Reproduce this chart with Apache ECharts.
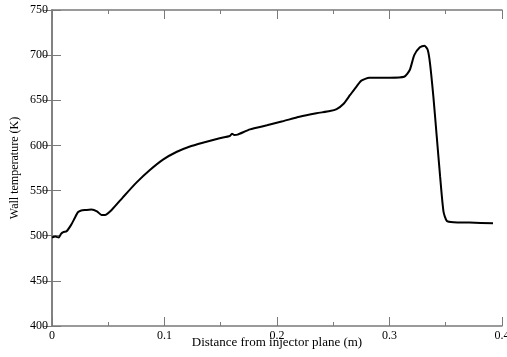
<!DOCTYPE html>
<html>
<head>
<meta charset="utf-8">
<script src="https://cdn.jsdelivr.net/npm/echarts@6/dist/echarts.min.js"></script>
<style>
  html, body { margin: 0; padding: 0; background: #fff; }
  #chart { width: 507px; height: 357px; }
</style>
</head>
<body>
<div id="chart"></div>
<script>
  // distance from injector plane (m)
  const distance = [0, 0.003, 0.006, 0.008, 0.010, 0.013, 0.017, 0.020, 0.023, 0.026,
    0.030, 0.035, 0.040, 0.044, 0.047, 0.053, 0.063, 0.075, 0.087, 0.099,
    0.111, 0.122, 0.134, 0.149, 0.158, 0.160, 0.162, 0.165, 0.176, 0.191,
    0.205, 0.220, 0.235, 0.247, 0.253, 0.259, 0.265, 0.271, 0.275, 0.282,
    0.291, 0.300, 0.313, 0.318, 0.322, 0.327, 0.331, 0.334, 0.336, 0.339,
    0.342, 0.345, 0.348, 0.351, 0.357, 0.371, 0.392];
  // wall temperature (K)
  const temperature = [498, 499, 498, 502, 504, 505, 512, 519, 526, 528,
    528.5, 529, 527, 523, 523, 528.5, 542.5, 558.8, 572.8, 584.6,
    593, 598.6, 603, 607.9, 610.4, 613, 611.6, 612, 617.8, 622.3,
    626.7, 631.8, 635.6, 638.1, 640.3, 645.9, 655.9, 665.8, 671.7, 675,
    675, 675, 676, 683.5, 700, 708.7, 710.5, 705.7, 691, 654,
    609.7, 565.4, 526.6, 516.3, 514.9, 514.5, 513.7];

  const xTicks = [0, 0.1, 0.2, 0.3, 0.4];
  const yTicks = [400, 450, 500, 550, 600, 650, 700, 750];

  const font = 'Liberation Serif';
  const axisColor = '#7a7a7a';

  const myChart = echarts.init(document.getElementById('chart'));

  const xBase = {
    type: 'value',
    min: xTicks[0],
    max: xTicks[xTicks.length - 1],
    interval: 0.1,
    splitLine: { show: false },
    axisLine: { lineStyle: { color: axisColor, width: 1.5 } },
    axisTick: { inside: true, length: 9, lineStyle: { color: axisColor, width: 1 } },
    minorTick: { show: true, splitNumber: 2, length: 4, lineStyle: { color: axisColor, width: 1 } },
  };
  const yBase = {
    type: 'value',
    min: yTicks[0],
    max: yTicks[yTicks.length - 1],
    interval: 50,
    splitLine: { show: false },
    axisLine: { lineStyle: { color: axisColor, width: 1.5 } },
    axisTick: { inside: true, length: 9, lineStyle: { color: axisColor, width: 1 } },
  };

  const option = {
    animation: false,
    grid: { left: 52, right: 5, top: 10, bottom: 31, outerBoundsMode: 'none', containLabel: false },
    xAxis: [
      Object.assign({}, xBase, {
        position: 'bottom',
        name: 'Distance from injector plane (m)',
        nameLocation: 'middle',
        nameGap: 10,
        nameMoveOverlap: false,
        nameTextStyle: { fontFamily: font, fontSize: 13, color: '#000', verticalAlign: 'top' },
        axisLabel: {
          margin: 4,
          fontFamily: font,
          fontSize: 12,
          color: '#000',
          formatter: (v) => (v === 0 ? '0' : v.toFixed(1)),
        },
      }),
      Object.assign({}, xBase, {
        position: 'top',
        axisLabel: { show: false },
      }),
    ],
    yAxis: [
      Object.assign({}, yBase, {
        position: 'left',
        name: 'Wall temperature (K)',
        nameLocation: 'middle',
        nameGap: 37,
        nameMoveOverlap: false,
        nameTextStyle: { fontFamily: font, fontSize: 12, color: '#000', verticalAlign: 'middle' },
        axisLabel: { margin: 4, fontFamily: font, fontSize: 12, color: '#000' },
      }),
      Object.assign({}, yBase, {
        position: 'right',
        axisLabel: { show: false },
      }),
    ],
    series: [{
      type: 'line',
      data: distance.map((d, i) => [d, temperature[i]]),
      showSymbol: false,
      smooth: 0.2,
      lineStyle: { color: '#000', width: 2 },
    }],
  };

  myChart.setOption(option);
</script>
</body>
</html>
